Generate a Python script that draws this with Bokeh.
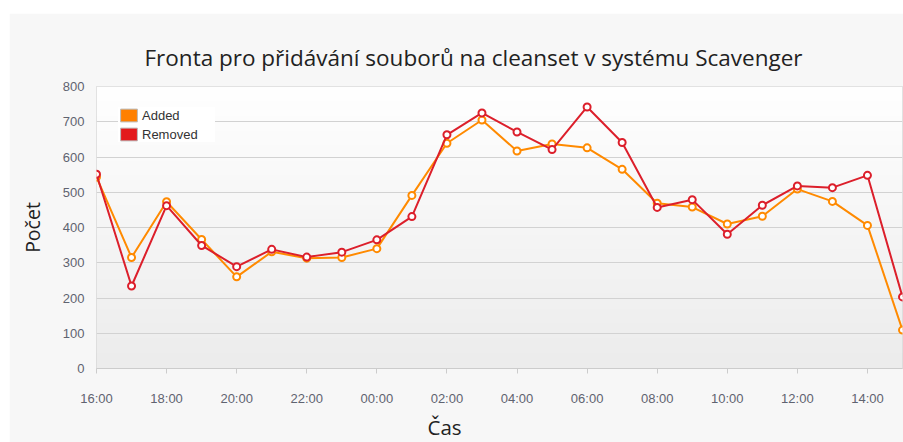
import numpy as np
from bokeh.plotting import figure
from bokeh.models import (Range1d, FixedTicker, Title, Legend, LegendItem, Spacer,
                          ColumnDataSource)
from bokeh.layouts import column, row
from bokeh.embed import file_html
from bokeh.resources import INLINE

# ---- data ----
hours = ["16:00", "17:00", "18:00", "19:00", "20:00", "21:00", "22:00", "23:00",
         "00:00", "01:00", "02:00", "03:00", "04:00", "05:00", "06:00", "07:00",
         "08:00", "09:00", "10:00", "11:00", "12:00", "13:00", "14:00", "15:00"]
added = [543, 315, 473, 366, 260, 331, 313, 315, 340, 491, 639, 705,
         617, 637, 626, 565, 469, 458, 410, 432, 509, 474, 406, 109]
removed = [551, 234, 462, 349, 289, 338, 316, 330, 365, 431, 663, 725,
           671, 621, 742, 641, 457, 479, 381, 463, 518, 513, 548, 203]
y_ticks = [0, 100, 200, 300, 400, 500, 600, 700, 800]
series_names = ["Added", "Removed"]

x = list(range(len(hours)))
x_end = len(hours) - 1

ORANGE = "#ff8a00"
RED = "#dc1f2b"

src = ColumnDataSource(data=dict(x=x, added=added, removed=removed))

p = figure(width=894, height=429, output_backend="svg", toolbar_location=None,
           x_range=Range1d(0, x_end), y_range=Range1d(y_ticks[0], y_ticks[-1]),
           min_border_left=87, min_border_right=1, min_border_top=73, min_border_bottom=70)

p.border_fill_color = "#f7f7f7"
p.background_fill_color = "#f5f5f5"
p.outline_line_color = "#d9d9d9"

# plot-area gradient (decoration)
n = 256
shade = np.linspace(236, 255, n).astype(np.uint8)
grad = np.empty((n, 1), dtype=np.uint32)
view = grad.view(dtype=np.uint8).reshape((n, 1, 4))
view[:, 0, 0] = shade
view[:, 0, 1] = shade
view[:, 0, 2] = shade
view[:, 0, 3] = 255
p.image_rgba(image=[grad], x=0, y=y_ticks[0], dw=x_end, dh=y_ticks[-1] - y_ticks[0], level="image")

# title
p.title.text = "Fronta pro přidávání souborů na cleanset v systému Scavenger"
p.title.align = "left"
p.title.offset = 48
p.title.text_font = "Open Sans"
p.title.text_font_size = "22.5px"
p.title.text_font_style = "normal"
p.title.text_color = "#222222"
p.title.standoff = 28

# axes
p.xaxis.ticker = FixedTicker(ticks=x[::2])
p.xaxis.major_label_overrides = {i: hours[i] for i in x[::2]}
p.yaxis.ticker = FixedTicker(ticks=y_ticks)
for ax in (p.xaxis, p.yaxis):
    ax.major_label_text_font = "Liberation Sans"
    ax.major_label_text_font_size = "13px"
    ax.major_label_text_color = "#5f6370"
    ax.minor_tick_line_color = None
    ax.minor_tick_out = 0
    ax.minor_tick_in = 0
p.xaxis.axis_line_color = "#cccccc"
p.xaxis.major_tick_line_color = "#cccccc"
p.xaxis.major_tick_out = 5
p.xaxis.major_tick_in = 0
p.xaxis.major_label_standoff = 17
p.yaxis.axis_line_color = None
p.yaxis.major_tick_line_color = None
p.yaxis.major_tick_out = 0
p.yaxis.major_tick_in = 0
p.yaxis.major_label_standoff = 12

p.yaxis.axis_label = "Počet"
p.yaxis.axis_label_text_font = "Open Sans"
p.yaxis.axis_label_text_font_size = "19.5px"
p.yaxis.axis_label_text_font_style = "normal"
p.yaxis.axis_label_text_color = "#222222"
p.yaxis.axis_label_standoff = 14

xlabel = Title(text="Čas", align="left", offset=331, text_font="Open Sans",
               text_font_size="20.5px", text_font_style="normal", text_color="#222222",
               standoff=4)
p.add_layout(xlabel, "below")

p.xgrid.grid_line_color = None
p.ygrid.grid_line_color = "#d2d2d2"
p.ygrid.grid_line_width = 1

# series
p.line("x", "added", source=src, line_color=ORANGE, line_width=2)
p.scatter("x", "added", source=src, marker="circle", size=7, line_color=ORANGE,
          line_width=2, fill_color="white")
p.line("x", "removed", source=src, line_color=RED, line_width=2)
p.scatter("x", "removed", source=src, marker="circle", size=7, line_color=RED,
          line_width=2, fill_color="white")

# legend swatches: quads mapped to a range far outside the frame (clipped, only the
# legend swatch is visible)
p.extra_y_ranges = {"swatch": Range1d(100000, 100001)}
sw_a = p.quad(left="x", right="x", top="added", bottom="added", source=src,
              y_range_name="swatch",
              fill_color="#ff8000", line_color="#bbbbbb", line_width=1)
sw_r = p.quad(left="x", right="x", top="removed", bottom="removed", source=src,
              y_range_name="swatch",
              fill_color="#e31a1c", line_color="#bbbbbb", line_width=1)
legend = Legend(items=[LegendItem(label=series_names[0], renderers=[sw_a]),
                       LegendItem(label=series_names[1], renderers=[sw_r])],
                location=(22, 226))
legend.background_fill_color = "white"
legend.background_fill_alpha = 1.0
legend.border_line_color = None
legend.label_text_font = "Liberation Sans"
legend.label_text_font_size = "13px"
legend.label_text_color = "#333333"
legend.glyph_width = 21
legend.glyph_height = 16
legend.label_height = 16
legend.label_width = 73
legend.label_standoff = 3
legend.spacing = 3
legend.padding = 5
legend.margin = 0
p.add_layout(legend, "center")

layout = row(Spacer(width=9), column(Spacer(height=13), p))
open("out.html", "w").write(file_html(layout, INLINE))
